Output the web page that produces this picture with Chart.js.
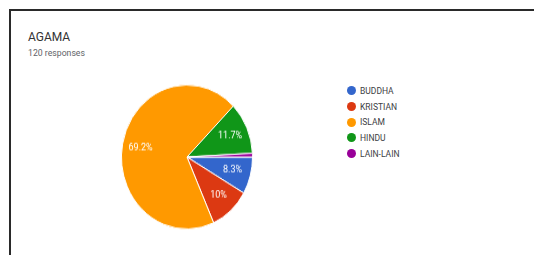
<!DOCTYPE html>
<html>
<head>
<meta charset="utf-8">
<script src="https://cdn.jsdelivr.net/npm/chart.js@4/dist/chart.umd.min.js"></script>
<style>
  html, body { margin: 0; padding: 0; background: #fff; }
  body { width: 534px; height: 255px; position: relative; overflow: hidden; font-family: Roboto, "Liberation Sans", sans-serif; }
  .frame { position: absolute; left: 9px; top: 9px; width: 600px; height: 300px;
           border-top: 2px solid #2a2a2a; border-left: 2px solid #2a2a2a; }
  .title { position: absolute; left: 28px; top: 30px; font-size: 12px; color: #333; }
  .sub { position: absolute; left: 28px; top: 48px; font-size: 8.7px; color: #5f6368; }
  .pie { position: absolute; left: 121px; top: 91px; width: 132px; height: 132px;
         transform: scaleY(1.1); transform-origin: 50% 50%; }
  .legend { position: absolute; left: 347px; top: 83px; font-size: 8.5px; color: #3c4043; }
  .legend div { height: 15.7px; display: flex; align-items: center; }
  .legend span.dot { display: inline-block; width: 9px; height: 9px; border-radius: 50%; margin-right: 4px; }
</style>
</head>
<body>
<div class="frame"></div>
<div class="title">AGAMA</div>
<div class="sub">120 responses</div>
<div class="pie"><canvas id="pie"></canvas></div>
<div class="legend" id="legend"></div>
<script>
// data (120 responses)
const labels = ["BUDDHA", "KRISTIAN", "ISLAM", "HINDU", "LAIN-LAIN"];
const counts = [10, 12, 83, 14, 1];
const colors = ["#3366cc", "#dc3912", "#ff9900", "#109618", "#990099"];

const total = counts.reduce((a, b) => a + b, 0);
const pctTxt = (v) => (v / total * 100).toFixed(1).replace(/\.0$/, "") + "%";

// legend in HTML
const leg = document.getElementById("legend");
labels.forEach((l, i) => {
  const row = document.createElement("div");
  const dot = document.createElement("span");
  dot.className = "dot";
  dot.style.background = colors[i];
  row.appendChild(dot);
  row.appendChild(document.createTextNode(l));
  leg.appendChild(row);
});

// percentage labels inside the slices
const sliceLabels = {
  id: "sliceLabels",
  afterDatasetsDraw(chart) {
    const { ctx } = chart;
    const meta = chart.getDatasetMeta(0);
    ctx.save();
    ctx.fillStyle = "#fff";
    ctx.font = "9px Roboto, sans-serif";
    ctx.textAlign = "center";
    ctx.textBaseline = "middle";
    meta.data.forEach((arc, i) => {
      if (counts[i] / total < 0.05) return;
      const { x, y, startAngle, endAngle, outerRadius } = arc.getProps(["x", "y", "startAngle", "endAngle", "outerRadius"], true);
      const mid = (startAngle + endAngle) / 2;
      const r = outerRadius * 0.72;
      ctx.fillText(pctTxt(counts[i]), x + Math.cos(mid) * r, y + Math.sin(mid) * r);
    });
    ctx.restore();
  },
};

new Chart(document.getElementById("pie"), {
  type: "pie",
  data: { labels, datasets: [{ data: counts, backgroundColor: colors, borderColor: "#fff", borderWidth: 1 }] },
  options: {
    responsive: true, maintainAspectRatio: false, animation: false,
    rotation: 90,
    layout: { padding: 0 },
    plugins: { legend: { display: false }, tooltip: { enabled: false } },
  },
  plugins: [sliceLabels],
});
</script>
</body>
</html>
